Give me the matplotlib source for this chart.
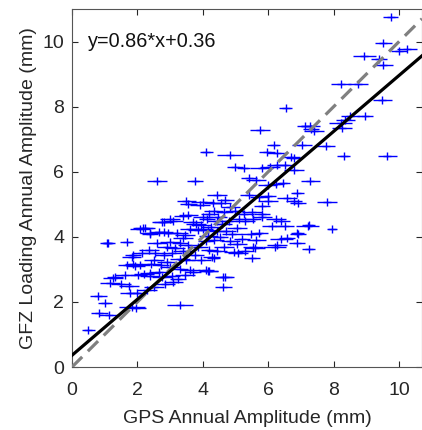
import matplotlib
matplotlib.use("Agg")
import matplotlib.pyplot as plt
import numpy as np

plt.rcParams['font.family'] = ['Liberation Sans', 'DejaVu Sans']

# GPS annual amplitude (x), GFZ loading annual amplitude (y), GPS error (half-width)
gps_amp = [
    9.74, 9.52, 10.25, 10.0, 8.94, 9.38, 9.52, 8.23, 8.75, 9.49, 6.53, 8.51, 8.95,
    5.74, 7.13, 7.29, 7.39, 7.30, 8.36, 8.21, 8.25, 6.17, 7.03, 7.75, 4.10, 4.84,
    5.96, 6.27, 8.31, 9.64, 6.68, 6.78, 4.99, 5.25, 5.80, 6.06, 6.26, 6.50, 6.78,
    2.59, 3.77, 5.42, 5.63, 5.98, 6.24, 6.46, 7.29, 6.88, 6.57, 6.78, 7.80, 4.43,
    4.69, 5.40, 5.73, 6.00, 3.50, 4.00,
    3.56, 3.92, 4.30, 4.55, 4.84, 6.00, 5.80, 6.90, 3.56, 3.38, 2.75, 3.10, 2.18,
    2.38, 2.67, 2.94, 3.20, 3.46, 3.86, 4.17, 1.06, 1.68, 2.99, 3.30, 3.55, 4.10,
    4.35, 2.13, 1.86, 2.55, 2.80, 3.05, 3.30, 3.50, 4.27, 1.88, 2.07, 2.42, 2.71,
    3.00, 3.30, 3.60, 4.10, 1.32, 1.62, 2.03, 2.38, 2.76, 3.06, 3.45, 4.69, 4.33,
    4.66, 4.97, 5.50, 5.80, 4.12, 4.43, 5.30, 5.54, 5.80, 6.24, 6.40, 6.10, 6.50,
    7.20, 7.95, 4.02, 4.43, 4.70, 5.05, 5.47, 5.73, 6.90, 4.17, 4.53, 4.84, 5.20,
    5.05, 5.64, 6.40, 6.87, 5.60, 6.20, 7.24, 4.43, 4.94, 4.20, 4.33, 4.20, 6.27,
    5.53, 6.57, 6.88, 7.24, 1.11, 2.08, 2.80, 3.00,
    0.50, 0.84, 1.13, 0.81, 1.01, 1.83, 1.96, 3.31, 1.16, 1.50, 1.75, 1.26, 1.78,
    2.00, 2.29, 2.50, 3.10, 4.63, 4.63, 4.17, 3.70, 2.39, 2.20, 2.66, 1.67, 1.94,
    1.82, 2.90, 5.07,
    3.80, 4.00, 4.20, 4.45, 4.60, 4.80, 3.95, 4.25, 3.70, 3.60, 4.90, 5.10, 5.25,
    3.40, 3.85, 3.75, 3.95, 3.15, 2.90, 2.60, 2.35, 2.50, 3.40, 4.65, 5.30, 5.50,
    2.85, 3.25, 2.24, 2.39, 2.80,
]
gfz_amp = [
    10.74, 9.97, 9.76, 9.71, 9.55, 9.45, 9.28, 8.71, 8.69, 8.20, 7.95, 7.70, 7.70,
    7.28, 7.40, 7.40, 7.24, 7.30, 7.60, 7.50, 7.35, 6.83, 6.83, 6.80, 6.60, 6.52,
    6.60, 6.57, 6.47, 6.47, 6.46, 6.41, 6.14, 6.11, 6.10, 6.16, 6.21, 6.20, 6.05,
    5.70, 5.73, 5.80, 5.75, 5.60, 5.63, 5.65, 5.70, 5.36, 5.19, 5.10, 5.06, 5.29,
    5.14, 5.30, 5.23, 5.26, 5.10, 5.08,
    5.01, 4.99, 5.05, 5.05, 4.93, 5.10, 4.95, 5.03, 4.67, 4.63, 4.47, 4.50, 4.26,
    4.10, 4.15, 4.13, 4.13, 4.07, 4.20, 4.20, 3.82, 3.85, 3.85, 3.80, 3.75, 3.87,
    3.90, 3.49, 3.44, 3.49, 3.44, 3.49, 3.33, 3.28, 3.39, 3.18, 3.13, 3.18, 3.13,
    3.08, 3.02, 2.97, 2.97, 2.77, 2.83, 2.83, 2.80, 2.77, 2.80, 2.83, 2.77, 4.80,
    4.75, 4.78, 4.75, 4.70, 4.54, 4.49, 4.49, 4.54, 4.60, 4.54, 4.49, 4.34, 4.34,
    4.34, 4.24, 4.24, 4.18, 4.18, 4.28, 4.08, 4.13, 4.08, 4.03, 3.98, 3.88, 3.93,
    3.77, 3.90, 3.93, 3.80, 3.67, 3.69, 3.62, 3.57, 3.53, 3.60, 3.34, 2.95, 3.75,
    3.70, 3.96, 4.11, 4.37, 3.80, 4.23, 4.47, 4.55,
    1.13, 1.65, 1.60, 2.19, 1.98, 1.83, 1.80, 1.90, 2.57, 2.55, 2.50, 2.72, 2.28,
    2.28, 2.38, 2.45, 2.62, 2.77, 2.47, 2.96, 2.93, 2.88, 2.85, 2.92, 3.13, 3.10,
    3.38, 3.24, 3.50,
    4.40, 4.60, 4.70, 4.62, 4.40, 4.50, 4.35, 4.30, 4.45, 4.25, 4.10, 4.55, 4.70,
    3.95, 3.70, 3.45, 3.30, 3.65, 3.70, 3.80, 3.60, 3.30, 3.55, 3.70, 3.55, 3.35,
    2.55, 2.70, 4.26, 4.12, 4.15,
]
gps_err = [
    0.22, 0.25, 0.30, 0.25, 0.35, 0.25, 0.30, 0.30, 0.30, 0.30, 0.20, 0.30, 0.25,
    0.30, 0.25, 0.30, 0.30, 0.25, 0.30, 0.35, 0.30, 0.20, 0.30, 0.30, 0.20, 0.40,
    0.25, 0.30, 0.20, 0.30, 0.30, 0.25, 0.25, 0.20, 0.35, 0.30, 0.30, 0.30, 0.30,
    0.30, 0.25, 0.25, 0.30, 0.30, 0.25, 0.20, 0.30, 0.20, 0.30, 0.25, 0.30, 0.30,
    0.25, 0.25, 0.30, 0.25, 0.30, 0.35,
    0.25, 0.30, 0.25, 0.30, 0.30, 0.30, 0.25, 0.25, 0.30, 0.25, 0.30, 0.30, 0.30,
    0.25, 0.30, 0.30, 0.35, 0.30, 0.30, 0.25, 0.20, 0.20, 0.30, 0.25, 0.30, 0.25,
    0.30, 0.30, 0.25, 0.30, 0.25, 0.30, 0.30, 0.25, 0.25, 0.25, 0.30, 0.30, 0.25,
    0.30, 0.25, 0.30, 0.25, 0.25, 0.30, 0.25, 0.30, 0.30, 0.25, 0.30, 0.25, 0.30,
    0.25, 0.30, 0.30, 0.25, 0.25, 0.30, 0.30, 0.25, 0.30, 0.30, 0.25, 0.30, 0.30,
    0.35, 0.15, 0.30, 0.25, 0.30, 0.30, 0.30, 0.25, 0.25, 0.30, 0.25, 0.30, 0.25,
    0.30, 0.30, 0.35, 0.25, 0.30, 0.35, 0.20, 0.30, 0.30, 0.25, 0.20, 0.25, 0.30,
    0.30, 0.25, 0.20, 0.20, 0.20, 0.30, 0.30, 0.30,
    0.20, 0.25, 0.30, 0.25, 0.20, 0.40, 0.30, 0.40, 0.30, 0.30, 0.30, 0.30, 0.30,
    0.30, 0.30, 0.30, 0.30, 0.25, 0.25, 0.30, 0.25, 0.30, 0.30, 0.30, 0.25, 0.30,
    0.30, 0.30, 0.30,
    0.30, 0.30, 0.25, 0.30, 0.30, 0.25, 0.30, 0.30, 0.30, 0.30, 0.30, 0.30, 0.30,
    0.30, 0.30, 0.30, 0.30, 0.30, 0.30, 0.30, 0.30, 0.30, 0.30, 0.30, 0.25, 0.25,
    0.30, 0.25, 0.30, 0.30, 0.30,
]

slope, intercept = 0.86, 0.36
ticks = [0, 2, 4, 6, 8, 10]

fig = plt.figure(figsize=(4.22, 4.30), dpi=100)
ax = fig.add_axes([72/422, 63/430, 350/422, 358/430])

ax.errorbar(gps_amp, gfz_amp, xerr=gps_err, fmt='+', color='#0000FF',
            ecolor='#0000FF', elinewidth=1.0, markersize=6, markeredgewidth=1.0,
            capsize=0, zorder=2)

xl = np.array([0, 10.7])
ax.plot(xl, xl, color='#808080', lw=2.3, dashes=(4.5, 2.5), zorder=3)
ax.plot(xl, slope * xl + intercept, color='black', lw=2.3, zorder=4)

ax.text(0.5, 10.0, 'y=0.86*x+0.36', fontsize=14.3, va='center', ha='left', color='#111111')

ax.set_xlim(0, 10.7)
ax.set_ylim(0, 11)
ax.set_xticks(ticks)
ax.set_yticks(ticks)
ax.tick_params(direction='in', top=True, right=True, length=4, labelsize=14,
               colors='#262626', width=0.8)
ax.tick_params(axis='x', pad=11)
ax.tick_params(axis='y', pad=5.5)
for s in ax.spines.values():
    s.set_color('#555555')
    s.set_linewidth(0.8)
ax.set_xlabel('GPS Annual Amplitude (mm)', fontsize=14, color='#262626', labelpad=8)
ax.set_ylabel('GFZ Loading Annual Amplitude (mm)', fontsize=14, color='#262626', labelpad=4)

fig.savefig('out.png', dpi=100)
